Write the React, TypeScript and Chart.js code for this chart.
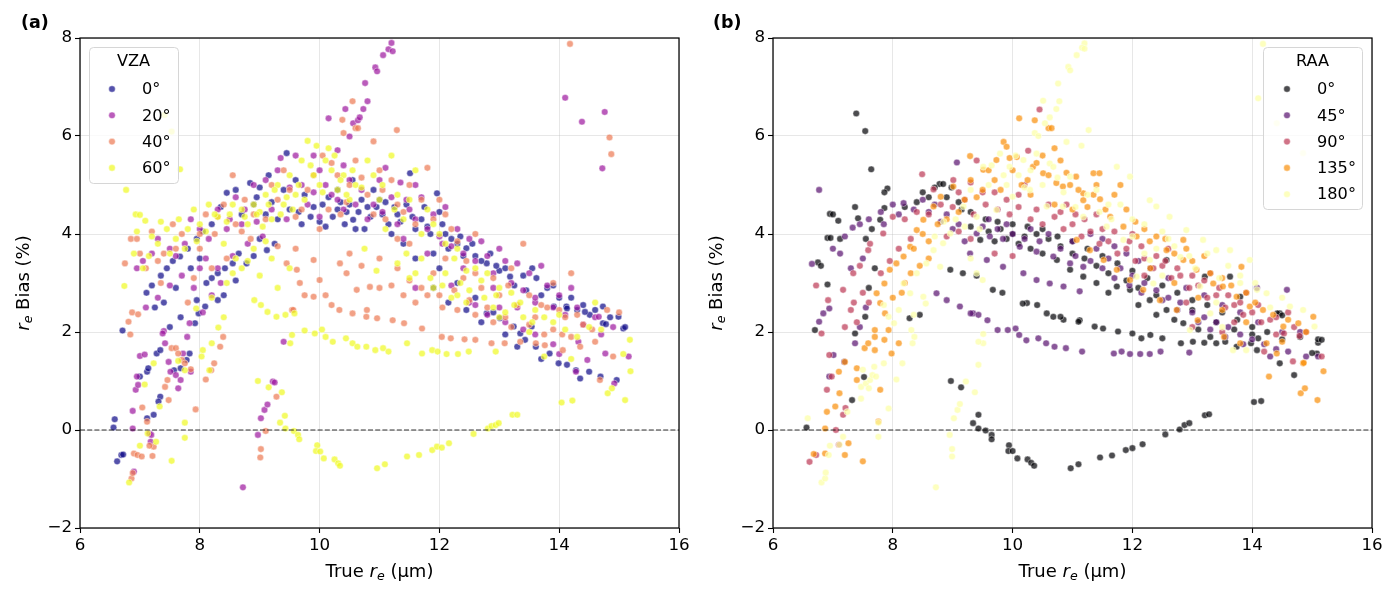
import { useEffect, useRef } from "react";
import { Chart, registerables } from "chart.js";

Chart.register(...registerables);

const FONT = '"DejaVu Sans", sans-serif';

const xTicks = [6, 8, 10, 12, 14, 16];
const yTicks = [-2, 0, 2, 4, 6, 8];

const vzaLabels = ["0°", "20°", "40°", "60°"];
const vzaColors = ["13,8,135", "156,23,158", "237,121,83", "240,249,33"];
const raaLabels = ["0°", "45°", "90°", "135°", "180°"];
const raaColors = ["0,0,4", "87,16,110", "188,55,84", "249,142,9", "252,255,164"];

// (a) points grouped by VZA: [true re, bias %]
const vza0 = [
  [6.56, 0.05], [6.58, 0.22], [6.62, -0.64], [6.69, -0.51], [6.72, -0.5], [6.71, 2.03], [7.0, 1.09], [7.12, 1.19],
  [7.14, 1.26], [7.12, 0.24], [7.23, 0.31], [7.28, 1.56], [7.34, 1.63], [7.34, 0.68], [7.31, 0.58], [7.5, 2.1],
  [7.57, 1.22], [7.68, 1.26], [7.68, 2.3], [7.78, 1.43], [7.83, 1.56], [7.92, 2.18], [7.98, 2.38], [8.09, 2.52],
  [7.11, 2.8], [7.2, 2.95], [7.35, 3.15], [7.45, 3.3], [7.55, 3.45], [7.67, 3.54], [7.8, 3.7], [7.95, 3.9],
  [8.05, 4.05], [8.2, 4.2], [8.11, 3.0], [8.2, 3.1], [8.3, 3.2], [8.42, 3.3], [8.55, 3.4], [8.78, 3.4],
  [8.9, 3.55], [9.12, 3.67], [9.25, 3.8], [8.65, 3.6], [9.0, 3.9], [8.45, 4.84], [8.6, 4.9], [8.84, 5.04],
  [9.0, 4.95], [9.2, 4.65], [9.45, 5.65], [9.6, 5.1], [9.75, 4.8], [9.9, 4.55], [10.05, 4.6], [10.22, 4.35],
  [10.3, 4.5], [10.42, 4.2], [10.56, 4.29], [10.65, 4.45], [10.75, 4.1], [10.85, 4.35], [10.95, 4.55], [11.05, 4.4],
  [11.15, 4.2], [10.9, 4.9], [11.1, 4.65], [11.3, 4.4], [11.51, 5.24], [11.7, 4.3], [11.96, 4.83], [12.05, 4.2],
  [11.85, 4.0], [12.2, 3.9], [12.3, 3.8], [12.45, 3.71], [12.6, 3.55], [12.79, 3.4], [13.0, 3.25], [13.18, 3.13],
  [13.4, 3.15], [13.62, 3.1], [13.8, 2.9], [14.0, 2.7], [14.12, 2.52], [14.3, 2.45], [14.51, 2.35], [14.73, 2.18],
  [15.07, 2.07], [15.1, 2.1], [11.6, 3.5], [12.0, 3.3], [12.3, 3.0], [12.6, 2.7], [12.9, 2.4], [12.79, 2.38],
  [13.01, 2.28], [13.24, 2.11], [13.54, 2.11], [13.35, 1.97], [13.43, 1.84], [13.61, 1.7], [13.84, 1.56], [13.99, 1.36],
  [14.13, 1.33], [14.28, 1.22], [14.5, 1.19], [14.69, 1.09], [14.96, 1.02], [13.91, 2.52], [14.13, 2.48], [14.43, 2.41],
  [14.73, 2.52], [14.99, 2.31], [14.78, 2.16], [9.3, 4.3], [9.5, 4.5], [9.7, 4.2], [10.0, 4.25], [10.15, 4.75],
  [10.5, 4.6], [10.7, 4.7], [11.2, 4.0], [11.4, 3.8], [11.6, 4.1], [11.9, 3.6], [8.7, 4.4], [8.9, 4.6], [9.1, 4.4],
  [9.85, 4.35], [10.1, 4.15], [10.35, 4.65], [10.45, 4.45], [10.6, 4.1], [10.8, 4.55], [11.0, 4.7], [11.25, 4.55],
  [11.35, 4.25], [11.45, 4.6], [11.55, 4.35], [11.75, 4.55], [11.8, 4.15], [12.0, 4.45], [12.1, 4.0], [12.15, 3.7],
  [12.35, 3.95], [12.4, 3.55], [12.55, 3.8], [12.7, 3.45], [12.85, 3.6], [12.95, 3.35], [13.1, 3.3], [13.25, 2.95],
  [13.45, 2.85], [13.55, 3.3], [13.7, 2.75], [13.9, 2.95], [14.2, 2.7], [14.4, 2.55], [14.6, 2.45], [14.85, 2.3],
  [10.3, 4.9], [10.55, 5.1], [9.65, 4.45], [9.4, 4.9], [9.15, 5.2], [8.95, 4.75], [8.35, 4.55], [8.0, 3.5],
  [7.85, 3.3], [7.6, 2.9], [7.4, 2.6], [7.25, 2.5], [8.4, 2.75], [8.6, 3.05], [8.3, 2.65], [7.95, 2.65],
  [11.9, 2.9], [12.15, 2.6], [12.45, 2.45], [12.7, 2.2], [13.1, 1.95], [13.3, 1.7], [13.7, 1.45], [14.35, 1.05],
];
const vza20 = [
  [10.15, 6.36], [10.3, 5.71], [10.43, 6.55], [10.5, 5.99], [10.56, 6.26], [10.64, 6.32], [10.67, 6.38], [10.73, 6.55],
  [10.8, 6.71], [10.76, 7.08], [10.93, 7.4], [10.96, 7.32], [11.06, 7.65], [11.15, 7.77], [11.2, 7.9], [11.22, 7.73],
  [14.1, 6.78], [14.38, 6.29], [14.76, 6.49], [14.72, 5.34], [6.9, -0.85], [6.88, 0.03], [6.88, 0.39], [6.93, 0.82],
  [6.97, 0.92], [6.95, 1.09], [7.0, 1.51], [7.08, 1.54], [7.16, -0.07], [7.19, -0.1], [7.18, -0.24], [7.4, 2.02],
  [7.38, 1.97], [7.42, 1.77], [7.48, 1.39], [7.51, 1.19], [7.6, 1.12], [7.64, 0.85], [7.68, 1.02], [7.72, 1.56],
  [7.79, 1.9], [7.85, 1.19], [7.83, 2.18], [8.72, -1.17], [8.97, -0.1], [9.02, 0.24], [9.08, 0.41], [9.13, 0.52],
  [9.22, 0.99], [9.25, 0.97], [9.4, 1.8], [6.95, 3.3], [7.05, 3.45], [7.2, 3.6], [7.3, 3.9], [7.5, 3.7],
  [7.6, 3.55], [7.75, 3.8], [7.85, 4.3], [8.0, 4.1], [8.0, 3.3], [8.1, 3.5], [8.2, 2.75], [8.35, 3.0],
  [8.3, 4.5], [8.5, 4.3], [8.6, 4.75], [8.75, 4.5], [8.9, 5.0], [9.1, 5.1], [9.3, 5.3], [9.35, 5.55],
  [9.6, 5.6], [9.7, 5.0], [9.9, 4.85], [10.1, 5.0], [10.3, 4.7], [10.5, 5.1], [10.7, 4.9], [10.9, 4.6],
  [11.0, 5.1], [11.2, 4.75], [11.35, 5.05], [11.5, 4.5], [11.7, 4.75], [11.9, 4.4], [12.1, 4.55], [12.05, 3.8],
  [12.3, 4.1], [12.5, 3.9], [12.7, 3.85], [12.8, 3.55], [13.0, 3.7], [13.1, 3.45], [13.3, 3.4], [13.5, 3.2],
  [13.7, 3.35], [13.8, 2.95], [14.0, 2.75], [14.2, 2.9], [14.3, 2.5], [14.6, 2.3], [14.9, 2.1], [15.16, 1.5],
  [14.92, 0.95], [14.77, 1.56], [14.28, 1.19], [14.47, 1.43], [14.66, 2.31], [14.32, 1.8], [13.6, 2.6], [13.3, 2.5],
  [12.9, 2.9], [12.4, 3.3], [11.8, 3.6], [11.4, 3.9], [12.5, 2.6], [12.8, 2.35], [13.1, 2.2], [13.6, 1.95], [14.0, 1.55],
  [8.15, 3.9], [8.45, 4.1], [8.7, 4.2], [8.95, 4.25], [9.2, 4.5], [9.45, 4.3], [9.5, 4.95], [9.8, 4.6],
  [10.0, 4.35], [10.2, 4.8], [10.4, 4.5], [10.6, 4.6], [10.8, 4.3], [11.05, 4.45], [11.3, 4.2], [11.45, 4.7],
  [11.6, 4.3], [11.8, 4.1], [12.0, 3.95], [12.2, 3.75], [12.4, 3.6], [12.6, 3.45], [12.9, 3.2], [13.2, 3.0],
  [13.4, 2.85], [13.6, 2.7], [13.9, 2.5], [14.1, 2.35], [14.4, 2.15], [14.7, 1.95], [7.1, 2.5], [7.3, 2.7],
  [7.5, 2.95], [7.7, 3.15], [7.9, 2.9], [8.05, 2.4], [8.3, 3.3], [8.55, 3.55], [8.8, 3.8], [9.05, 3.95],
  [12.2, 2.95], [12.6, 2.55], [13.0, 2.5], [13.4, 2.05], [13.9, 1.75], [11.6, 2.9], [10.4, 5.4], [10.0, 5.3],
  [9.9, 5.6], [11.1, 5.35], [11.6, 5.0],
];
const vza40 = [
  [6.86, -0.99], [6.88, -0.88], [6.9, -0.48], [6.96, -0.51], [7.03, -0.54], [7.04, 0.46], [7.12, 0.17], [7.21, -0.53],
  [7.23, -0.34], [7.16, -0.32], [6.81, 2.21], [6.84, 1.95], [6.87, 2.4], [6.97, 2.36], [7.42, 0.88], [7.46, 1.02],
  [7.48, 0.61], [7.53, 1.67], [7.6, 1.67], [7.64, 1.56], [7.7, 1.43], [7.75, 1.36], [7.85, 1.24], [7.93, 0.42],
  [8.1, 1.03], [8.19, 1.22], [8.24, 1.36], [8.34, 1.7], [8.39, 1.9], [9.02, -0.39], [9.01, -0.56], [9.1, -0.02],
  [9.28, 0.68], [9.54, 2.45], [6.75, 3.4], [6.85, 3.9], [6.95, 3.9], [7.1, 3.3], [7.2, 4.05], [7.35, 3.0],
  [7.4, 3.6], [7.55, 4.2], [7.7, 4.0], [7.8, 2.6], [7.9, 3.1], [8.0, 3.7], [8.1, 4.4], [8.25, 4.0],
  [8.4, 4.6], [8.55, 5.2], [8.6, 4.2], [8.75, 4.7], [8.9, 4.4], [9.45, 3.4], [9.62, 3.27], [9.9, 3.47],
  [10.0, 3.06], [10.34, 3.4], [10.45, 3.2], [10.62, 2.86], [10.79, 2.45], [10.84, 2.92], [9.56, 2.45], [9.9, 2.72],
  [9.67, 3.0], [9.75, 2.75], [10.1, 2.75], [10.2, 2.55], [11.0, 2.9], [10.33, 2.45], [10.55, 2.38], [10.78, 2.31],
  [10.96, 2.28], [11.22, 2.24], [11.41, 2.18], [11.71, 2.07], [12.04, 1.9], [12.19, 1.87], [12.42, 1.85], [12.6, 1.84],
  [12.87, 1.77], [13.09, 1.77], [13.35, 1.8], [13.61, 1.77], [13.76, 1.73], [14.06, 1.63], [14.68, 1.02], [9.1, 4.3],
  [9.3, 4.7], [9.5, 4.9], [9.7, 4.5], [9.9, 5.2], [10.0, 4.1], [10.2, 5.45], [10.35, 4.4], [10.5, 5.0],
  [10.6, 5.5], [10.8, 4.8], [11.0, 5.3], [11.1, 4.3], [11.3, 4.6], [11.29, 6.12], [10.9, 5.89], [10.55, 6.71],
  [10.38, 6.33], [10.6, 6.16], [10.64, 6.16], [10.4, 6.06], [11.5, 5.0], [11.6, 4.2], [11.8, 5.35], [12.0, 4.7],
  [12.2, 4.1], [11.5, 3.8], [11.3, 3.3], [11.5, 3.05], [11.7, 2.9], [11.9, 3.2], [12.0, 2.75], [12.1, 3.5],
  [12.25, 2.85], [12.4, 3.1], [12.5, 2.65], [12.7, 2.9], [12.8, 2.5], [13.0, 2.75], [13.1, 2.3], [13.3, 2.55],
  [13.4, 3.8], [13.6, 2.3], [13.8, 2.5], [13.9, 2.05], [14.1, 2.3], [14.2, 1.9], [14.4, 2.15], [14.6, 1.8],
  [14.8, 2.45], [14.9, 1.5], [14.2, 3.2], [13.9, 3.0], [14.84, 5.97], [14.87, 5.63], [14.18, 7.88], [15.0, 2.4],
  [12.6, 4.0], [13.2, 3.3], [9.2, 5.0], [9.4, 5.3], [9.6, 4.35], [9.8, 4.9], [10.05, 5.6], [10.15, 4.5],
  [10.3, 5.2], [10.45, 4.65], [10.7, 5.15], [10.9, 4.4], [11.05, 4.9], [11.2, 5.1], [11.4, 4.45], [11.7, 4.7],
  [11.9, 4.3], [12.1, 4.4], [12.3, 3.85], [12.45, 3.45], [12.6, 3.2], [12.9, 3.1], [13.15, 2.95], [13.5, 2.75],
  [13.7, 2.55], [14.0, 2.45], [14.3, 2.35], [14.55, 2.05], [11.2, 2.95], [11.4, 2.75], [11.6, 2.6], [11.8, 2.75],
  [12.05, 2.5], [12.3, 2.45], [12.6, 2.35], [12.9, 2.2], [13.2, 2.1], [13.5, 2.15], [13.75, 1.95], [14.05, 1.95],
  [14.35, 1.7], [8.7, 4.05], [8.3, 4.35], [8.0, 4.0], [7.6, 3.7], [7.3, 3.45], [7.0, 3.6], [8.45, 3.5],
  [8.2, 3.3], [8.85, 3.9], [9.6, 3.7], [9.3, 3.75], [10.5, 3.6], [10.7, 3.35], [11.0, 3.5], [11.3, 3.9],
];
const vza60 = [
  [6.77, 4.9], [6.93, 4.4], [7.0, 4.39], [7.09, 4.27], [6.74, 2.94], [7.41, 6.43], [7.53, 6.09], [7.67, 5.32],
  [6.82, -1.07], [7.0, -0.32], [7.27, -0.24], [7.13, -0.07], [7.53, -0.63], [7.75, -0.16], [7.75, 0.15], [7.33, 0.48],
  [7.23, 1.36], [7.08, 0.93], [7.64, 1.41], [7.75, 1.22], [8.05, 1.63], [8.03, 1.5], [8.16, 1.22], [8.2, 1.77],
  [8.31, 2.09], [7.94, 2.48], [8.4, 2.3], [6.9, 3.6], [7.05, 3.3], [7.2, 3.95], [7.3, 3.8], [7.45, 4.1],
  [7.6, 3.9], [7.65, 4.3], [7.8, 4.1], [7.9, 4.5], [8.0, 4.2], [8.15, 4.6], [8.3, 4.35], [8.4, 3.8],
  [8.5, 4.4], [8.6, 3.5], [8.7, 4.5], [8.8, 4.2], [8.9, 4.6], [9.0, 4.45], [9.1, 4.8], [9.2, 4.3],
  [9.3, 5.0], [9.4, 4.6], [9.5, 5.2], [9.6, 4.8], [9.7, 5.5], [9.8, 5.9], [9.85, 5.4], [9.95, 5.8],
  [10.0, 5.0], [10.1, 5.5], [10.2, 5.3], [10.3, 4.9], [10.4, 5.2], [10.5, 4.7], [10.6, 5.0], [10.8, 5.5],
  [11.0, 4.7], [11.1, 4.1], [11.2, 5.6], [11.4, 4.3], [11.6, 5.3], [11.8, 4.5], [12.0, 4.0], [8.2, 2.7],
  [8.45, 3.0], [8.7, 3.3], [8.9, 3.7], [9.0, 3.15], [9.2, 3.5], [9.3, 2.9], [9.5, 3.3], [8.91, 2.65],
  [9.02, 2.55], [9.13, 2.41], [9.28, 2.31], [9.43, 2.35], [9.58, 2.38], [9.54, 1.94], [9.51, 1.77], [9.75, 2.03],
  [9.92, 1.97], [10.04, 2.05], [10.1, 1.9], [10.22, 1.8], [10.44, 1.87], [10.55, 1.77], [10.63, 1.7], [10.78, 1.7],
  [10.93, 1.63], [11.06, 1.67], [11.15, 1.6], [11.46, 1.77], [11.71, 1.56], [11.88, 1.63], [11.97, 1.6], [12.12, 1.55],
  [12.31, 1.55], [12.49, 1.6], [12.94, 1.6], [8.97, 1.0], [9.15, 0.87], [9.37, 0.77], [9.42, 0.29], [9.34, 0.15],
  [9.43, 0.03], [9.57, -0.02], [9.64, -0.1], [9.66, -0.19], [9.96, -0.31], [9.94, -0.43], [10.01, -0.44], [10.07, -0.58],
  [10.25, -0.6], [10.31, -0.68], [10.34, -0.73], [10.96, -0.78], [11.09, -0.7], [11.46, -0.54], [11.66, -0.51], [11.88, -0.41],
  [11.96, -0.34], [12.04, -0.36], [12.16, -0.27], [12.57, -0.08], [12.81, 0.03], [12.87, 0.08], [12.94, 0.1], [12.99, 0.14],
  [13.22, 0.31], [13.3, 0.31], [14.04, 0.56], [14.22, 0.6], [15.1, 0.61], [15.19, 1.2], [14.81, 0.75], [14.88, 0.85],
  [15.07, 1.55], [15.18, 1.84], [11.5, 3.1], [11.7, 3.5], [11.9, 2.9], [12.1, 3.2], [12.2, 2.7], [12.35, 3.0],
  [12.5, 2.85], [12.6, 3.3], [12.75, 2.7], [12.9, 2.5], [13.0, 2.9], [13.1, 2.4], [13.25, 2.55], [13.4, 2.3],
  [13.5, 2.0], [13.6, 2.45], [13.75, 1.5], [13.9, 2.2], [14.0, 2.35], [14.2, 1.45], [14.5, 2.1], [14.6, 2.6],
  [12.3, 3.7], [11.3, 4.8], [12.8, 3.2], [8.1, 4.05], [8.25, 4.4], [8.45, 4.25], [8.55, 4.6], [8.75, 4.35],
  [8.95, 4.4], [9.05, 4.15], [9.15, 4.6], [9.25, 4.9], [9.35, 4.4], [9.45, 4.75], [9.55, 4.5], [9.65, 5.0],
  [9.75, 4.7], [9.9, 5.2], [10.05, 4.85], [10.15, 5.75], [10.25, 5.6], [10.35, 5.1], [10.45, 4.8], [10.55, 5.3],
  [10.7, 4.95], [10.9, 5.2], [11.05, 5.0], [11.25, 4.5], [11.5, 4.7], [11.7, 4.0], [11.9, 4.2], [12.1, 3.8],
  [12.25, 3.5], [12.45, 3.25], [12.7, 3.05], [12.95, 2.75], [13.2, 2.8], [13.35, 2.6], [13.55, 2.2], [13.75, 2.3],
  [14.1, 2.05], [14.3, 1.9], [14.7, 2.05], [11.3, 3.4], [11.6, 3.2], [11.85, 3.1], [12.05, 2.95], [12.45, 2.6],
  [7.35, 4.25], [7.5, 3.6], [7.75, 3.7], [7.95, 3.85], [8.55, 3.2], [8.8, 3.45], [9.1, 3.85], [7.15, 3.55],
  [6.95, 4.05], [12.3, 2.75], [11.45, 3.6], [13.0, 2.3], [10.75, 3.7], [10.95, 3.25],
];

// (b) points grouped by RAA
const raa0 = [
  [8.97, 1.0], [9.14, 0.87], [9.43, 0.31], [9.34, 0.14], [9.43, 0.03], [9.55, -0.01], [9.65, -0.1], [9.65, -0.19],
  [9.94, -0.31], [9.93, -0.43], [10.0, -0.43], [10.08, -0.58], [10.25, -0.6], [10.31, -0.67], [10.36, -0.73], [10.97, -0.78],
  [11.1, -0.7], [11.46, -0.56], [11.66, -0.52], [11.89, -0.41], [12.0, -0.37], [12.17, -0.29], [12.55, -0.09], [12.79, 0.01],
  [12.87, 0.1], [12.95, 0.14], [13.21, 0.3], [13.28, 0.32], [14.03, 0.57], [14.15, 0.59], [6.56, 0.05], [7.39, 6.46],
  [7.54, 6.1], [7.64, 5.32], [7.91, 4.93], [7.86, 4.85], [7.37, 4.55], [6.95, 4.41], [7.0, 4.4], [7.09, 4.27],
  [6.91, 3.92], [6.96, 3.92], [7.12, 3.9], [6.75, 3.42], [6.8, 3.35], [6.91, 2.97], [6.7, 2.04], [7.42, 4.32],
  [7.79, 4.29], [7.86, 4.53], [8.78, 5.02], [8.84, 5.02], [8.98, 4.95], [7.37, 1.97], [7.54, 2.31], [7.52, 1.08],
  [7.32, 0.61], [8.28, 2.28], [8.45, 2.35], [7.6, 2.9], [7.7, 3.3], [7.55, 3.9], [7.65, 4.1], [9.46, 3.88],
  [9.7, 3.85], [9.9, 3.9], [10.1, 3.8], [10.3, 3.7], [10.5, 3.6], [10.74, 3.47], [10.96, 3.27], [11.18, 3.13],
  [11.4, 3.0], [11.74, 2.93], [11.96, 2.86], [12.29, 2.65], [12.57, 2.45], [12.85, 2.18], [13.3, 1.9], [13.74, 1.7],
  [14.08, 1.63], [14.46, 1.36], [15.08, 1.56], [15.1, 1.78], [9.3, 4.15], [9.6, 4.05], [9.8, 4.1], [10.0, 4.0],
  [10.2, 3.95], [10.4, 4.0], [10.6, 3.9], [10.8, 3.75], [11.0, 3.6], [11.2, 3.5], [11.4, 3.35], [11.6, 3.2],
  [11.9, 3.05], [12.1, 2.9], [12.4, 2.75], [12.57, 3.47], [13.21, 3.13], [13.63, 3.13], [13.8, 2.72], [14.46, 2.38],
  [13.0, 2.45], [13.4, 2.2], [13.7, 2.05], [14.0, 1.95], [14.5, 1.85], [14.8, 1.9], [15.1, 1.85], [8.96, 3.27],
  [9.17, 3.2], [9.4, 3.15], [9.67, 2.86], [9.83, 2.8], [10.24, 2.59], [10.41, 2.55], [10.68, 2.31], [10.85, 2.25],
  [11.12, 2.24], [10.17, 2.58], [10.57, 2.38], [10.8, 2.31], [11.1, 2.21], [11.37, 2.11], [11.51, 2.07], [11.76, 2.01],
  [12.0, 1.97], [12.15, 1.87], [12.3, 1.94], [12.5, 1.87], [12.81, 1.77], [13.01, 1.8], [13.2, 1.78], [13.4, 1.77],
  [13.55, 1.8], [13.98, 1.77], [14.1, 1.87], [14.42, 2.38], [14.5, 2.34], [15.0, 1.57], [15.16, 1.84], [14.7, 1.12],
  [8.4, 4.65], [8.6, 4.75], [9.15, 4.5], [8.2, 4.55], [8.5, 4.85], [8.7, 4.95], [8.9, 4.75], [9.1, 4.65],
  [9.3, 4.45], [9.55, 4.3], [9.75, 4.25], [10.0, 4.2], [10.25, 4.15], [10.5, 4.1], [10.75, 3.95], [11.0, 3.85],
  [11.25, 3.7], [11.5, 3.55], [11.75, 3.4], [12.0, 3.25], [12.25, 3.1], [12.5, 2.95], [12.75, 2.8], [13.0, 2.65],
  [13.25, 2.55], [13.5, 2.4], [13.75, 2.25], [14.0, 2.1], [14.25, 2.0], [11.6, 2.8], [12.1, 2.55], [12.4, 2.35],
  [12.7, 2.25], [13.1, 2.05],
];
const raa45 = [
  [6.77, 4.9], [6.65, 3.39], [7.12, 3.6], [7.33, 4.13], [7.0, 3.7], [7.2, 3.95], [7.45, 4.2], [7.6, 4.3],
  [7.8, 4.45], [8.0, 4.6], [8.18, 4.63], [8.35, 4.5], [8.5, 4.7], [8.7, 4.6], [9.07, 5.46], [8.9, 4.4],
  [9.1, 4.2], [9.4, 4.01], [9.62, 3.95], [9.84, 3.9], [10.12, 3.74], [10.4, 3.64], [10.68, 3.54], [10.96, 3.4],
  [11.18, 3.33], [9.29, 3.6], [9.57, 3.47], [9.84, 3.33], [10.18, 3.2], [10.4, 3.06], [10.62, 2.99], [10.85, 2.93],
  [11.12, 2.83], [8.73, 2.79], [8.9, 2.65], [9.12, 2.52], [9.34, 2.38], [9.3, 2.38], [9.43, 2.35], [9.58, 2.24],
  [9.75, 2.04], [9.92, 2.04], [10.05, 2.07], [10.11, 1.94], [10.23, 1.83], [10.43, 1.87], [10.56, 1.77], [10.7, 1.7],
  [10.89, 1.67], [11.16, 1.6], [11.69, 1.56], [11.82, 1.6], [11.96, 1.55], [12.13, 1.55], [12.29, 1.55], [12.47, 1.6],
  [12.95, 1.58], [6.84, 2.38], [6.77, 2.21], [6.94, 2.48], [7.01, 1.53], [6.94, 1.09], [7.37, 1.77], [7.19, 1.39],
  [7.45, 2.1], [7.55, 2.5], [11.4, 3.7], [11.6, 3.5], [11.8, 3.3], [12.0, 3.15], [12.2, 3.0], [12.4, 2.85],
  [12.6, 2.7], [12.8, 2.6], [13.0, 2.4], [13.2, 2.3], [13.4, 2.2], [13.6, 2.1], [13.8, 1.95], [14.0, 1.85],
  [14.2, 1.75], [14.4, 1.65], [14.6, 1.6], [14.9, 1.5], [15.1, 1.5], [11.3, 4.0], [11.5, 3.9], [11.7, 3.75],
  [11.9, 3.6], [12.1, 3.45], [12.3, 3.3], [12.6, 3.1], [12.9, 2.9], [13.2, 2.75], [13.5, 2.55], [13.8, 2.4],
  [14.1, 2.2], [14.58, 2.86], [14.08, 2.9], [14.5, 2.0], [14.8, 2.0], [9.6, 4.3], [9.9, 4.2], [10.3, 4.1],
  [10.6, 4.0], [11.0, 3.85], [9.5, 4.15], [9.75, 4.1], [10.0, 4.0], [10.2, 3.9], [10.45, 3.85], [10.8, 3.7],
  [11.05, 3.55], [11.3, 3.45], [11.5, 3.3], [11.7, 3.1], [11.95, 2.95], [12.15, 2.8], [12.5, 2.65], [12.75, 2.45],
  [13.1, 2.2], [13.3, 2.05], [13.55, 1.9], [13.85, 1.75], [14.3, 1.5], [8.6, 4.45], [8.8, 4.25], [9.0, 4.1],
  [9.2, 3.85], [8.1, 4.4], [7.85, 4.2], [7.5, 3.5], [7.3, 3.3],
];
const raa90 = [
  [6.61, -0.65], [6.72, -0.51], [6.81, 1.97], [6.94, 1.53], [6.98, 1.09], [6.9, 0.82], [7.17, 0.31], [7.21, 0.45],
  [7.05, 0.0], [7.1, -0.3], [6.72, 2.95], [6.92, 2.65], [7.17, 2.86], [7.34, 3.2], [7.45, 3.35], [7.59, 3.67],
  [7.62, 3.8], [7.84, 4.01], [8.0, 4.35], [7.3, 2.45], [7.2, 2.1], [7.4, 2.2], [8.49, 5.22], [8.68, 4.91],
  [9.01, 5.1], [9.4, 5.5], [10.26, 5.7], [10.45, 6.54], [8.2, 4.3], [8.4, 4.45], [8.6, 4.4], [8.8, 4.6],
  [9.0, 4.55], [9.2, 4.7], [9.35, 4.4], [9.55, 4.6], [9.75, 4.5], [9.95, 4.4], [10.1, 4.55], [10.3, 4.3],
  [10.5, 4.2], [10.7, 4.35], [10.85, 4.1], [11.0, 4.2], [11.15, 3.95], [11.3, 4.05], [11.45, 3.8], [11.6, 3.85],
  [11.75, 3.6], [11.9, 3.7], [12.05, 3.45], [12.2, 3.5], [12.35, 3.3], [12.5, 3.35], [12.65, 3.1], [12.8, 3.15],
  [12.95, 2.9], [13.1, 2.95], [13.25, 2.7], [13.4, 2.75], [13.55, 2.5], [13.7, 2.55], [13.85, 2.35], [14.0, 2.4],
  [14.15, 2.2], [14.3, 2.25], [14.53, 1.97], [14.79, 1.92], [14.68, 1.4], [15.16, 1.5], [14.9, 2.0], [14.6, 2.4],
  [13.9, 2.8], [13.3, 3.2], [12.6, 3.7], [12.0, 4.0], [11.4, 4.4], [10.9, 4.6], [10.2, 5.0], [9.7, 3.6],
  [9.3, 3.9], [10.0, 3.55], [13.0, 2.1], [13.5, 2.0], [14.2, 1.6], [9.1, 4.05], [8.9, 3.95], [9.1, 4.85],
  [9.3, 5.05], [9.5, 4.85], [9.7, 4.85], [9.9, 4.7], [10.1, 4.8], [10.4, 4.5], [10.6, 4.6], [10.8, 4.45],
  [11.05, 4.4], [11.2, 4.3], [11.5, 4.1], [11.7, 4.05], [11.95, 3.85], [12.15, 3.75], [12.4, 3.55], [12.55, 3.45],
  [12.75, 3.3], [13.0, 3.15], [13.2, 3.05], [13.45, 2.9], [13.6, 2.75], [13.8, 2.6], [14.1, 2.55], [14.4, 2.3],
  [14.7, 2.1], [12.2, 3.15], [12.9, 2.6], [13.7, 2.2], [14.4, 1.95], [8.3, 3.9], [8.1, 3.7], [7.95, 3.45],
  [7.8, 3.2], [7.5, 2.8], [7.35, 2.6], [7.6, 2.6],
];
const raa135 = [
  [6.68, -0.49], [6.87, -0.48], [7.2, -0.51], [7.5, -0.64], [7.26, -0.27], [6.87, 0.03], [6.9, 0.37], [7.04, 0.48],
  [7.11, 0.75], [7.1, 1.19], [7.2, 1.39], [7.4, 1.02], [7.4, 1.26], [7.53, 1.67], [7.59, 1.77], [7.7, 1.9],
  [7.76, 0.17], [7.79, 0.82], [7.93, 2.04], [7.98, 1.56], [8.1, 1.77], [7.7, 1.63], [7.86, 1.84], [7.73, 2.79],
  [7.86, 2.99], [7.95, 3.27], [8.06, 3.4], [8.18, 3.54], [8.29, 3.74], [8.4, 4.08], [8.51, 4.29], [8.68, 4.56],
  [8.8, 4.76], [9.01, 4.97], [9.29, 5.59], [9.51, 5.31], [9.73, 5.51], [9.85, 5.88], [9.9, 5.78], [10.07, 5.57],
  [10.34, 5.37], [10.51, 5.24], [10.73, 5.04], [10.84, 4.97], [11.06, 5.17], [11.18, 4.69], [10.11, 6.36], [10.37, 6.32],
  [10.6, 6.16], [10.65, 6.16], [7.79, 2.59], [7.87, 2.38], [7.7, 2.04], [11.35, 5.24], [11.45, 5.24], [11.8, 5.0],
  [10.96, 5.0], [11.18, 4.83], [11.35, 4.8], [11.46, 4.71], [11.63, 4.35], [11.85, 4.15], [12.07, 3.95], [12.29, 3.85],
  [12.57, 3.67], [12.85, 3.47], [13.07, 3.27], [13.35, 2.99], [13.51, 2.93], [13.74, 2.72], [13.96, 2.52], [14.18, 2.45],
  [14.52, 2.11], [14.77, 2.18], [15.02, 2.31], [14.85, 1.36], [14.41, 1.56], [13.8, 1.77], [13.53, 1.9], [13.09, 2.24],
  [12.74, 2.45], [12.46, 2.65], [12.18, 2.86], [11.96, 3.06], [11.74, 3.27], [11.52, 3.47], [11.29, 3.67], [11.07, 3.88],
  [12.85, 3.88], [13.82, 3.33], [14.24, 1.77], [14.81, 0.75], [14.88, 0.85], [15.09, 0.61], [15.19, 1.2], [14.86, 1.37],
  [14.28, 1.09], [9.2, 4.7], [9.5, 4.9], [9.7, 5.1], [10.0, 5.3], [10.25, 5.1], [10.5, 5.6], [10.8, 5.5],
  [11.0, 4.5], [10.7, 4.6], [10.3, 4.8], [8.9, 4.3], [9.1, 4.45], [8.6, 3.85], [8.2, 3.0], [8.0, 2.7],
  [9.3, 5.1], [9.4, 4.75], [9.6, 5.3], [9.8, 4.9], [9.95, 5.55], [10.15, 5.0], [10.4, 5.45], [10.6, 5.2],
  [10.7, 5.75], [10.9, 5.25], [11.1, 4.9], [11.25, 4.55], [11.4, 5.0], [11.55, 4.5], [11.7, 4.8], [11.9, 4.5],
  [12.05, 4.25], [12.2, 4.1], [12.4, 3.95], [12.55, 3.9], [12.7, 3.6], [12.9, 3.7], [13.0, 3.45], [13.2, 3.55],
  [13.3, 3.2], [13.5, 3.1], [13.65, 2.95], [13.9, 2.8], [14.05, 2.6], [14.35, 2.35], [14.6, 2.25], [14.9, 2.0],
  [8.35, 3.7], [8.5, 4.0], [8.75, 4.2], [8.3, 3.2], [8.45, 3.35], [8.6, 3.5], [8.15, 2.8], [12.3, 3.3],
  [12.7, 3.0], [13.1, 2.7], [13.5, 2.45], [13.9, 2.2], [14.5, 1.8],
];
const raa180 = [
  [11.2, 7.89], [11.16, 7.8], [11.2, 7.78], [11.07, 7.65], [10.93, 7.41], [10.96, 7.34], [10.76, 7.07], [10.78, 6.71],
  [10.73, 6.55], [10.51, 6.72], [10.54, 6.26], [10.62, 6.38], [10.37, 6.06], [10.43, 6.0], [11.27, 6.12], [10.9, 5.88],
  [11.15, 5.8], [14.1, 6.77], [14.41, 6.26], [14.18, 7.88], [14.85, 5.65], [6.81, -1.07], [6.87, -0.99], [6.88, -0.87],
  [6.58, 0.24], [6.93, -0.51], [7.11, -0.3], [7.17, -0.14], [6.95, -0.32], [7.24, 0.37], [7.47, 0.64], [7.47, 0.88],
  [7.55, 0.95], [7.62, 1.02], [7.66, 1.12], [7.69, 1.29], [7.76, -0.14], [7.76, 0.15], [7.93, 0.44], [7.85, 1.36],
  [8.06, 1.03], [8.16, 1.36], [8.36, 1.9], [8.33, 1.77], [8.72, -1.17], [8.95, -0.1], [8.99, -0.39], [8.99, -0.54],
  [9.02, 0.24], [9.08, 0.41], [9.12, 0.53], [9.22, 0.99], [9.37, 0.77], [9.43, 1.33], [9.51, 1.77], [9.51, 1.96],
  [9.43, 1.8], [10.62, 5.44], [11.74, 5.37], [11.96, 5.17], [12.29, 4.69], [12.4, 4.56], [12.62, 4.35], [12.9, 4.08],
  [13.18, 3.88], [13.4, 3.67], [13.63, 3.67], [13.96, 3.47], [13.8, 3.0], [14.08, 2.86], [14.24, 2.79], [14.63, 2.52],
  [14.85, 2.45], [15.04, 2.11], [12.96, 2.04], [13.3, 2.38], [12.35, 2.99], [12.07, 3.13], [11.85, 3.88], [11.57, 4.15],
  [11.18, 4.35], [10.84, 4.56], [12.29, 3.47], [12.8, 3.53], [13.13, 2.93], [13.68, 1.63], [13.9, 1.63], [7.85, 2.55],
  [7.93, 2.31], [8.02, 2.18], [8.1, 2.45], [8.35, 2.35], [8.55, 2.58], [8.31, 2.04], [7.5, 1.23], [7.72, 1.09],
  [7.6, 0.85], [8.18, 2.99], [8.29, 2.79], [8.4, 3.2], [8.56, 3.4], [8.68, 3.67], [8.79, 3.33], [8.84, 3.81],
  [8.96, 4.01], [8.51, 2.72], [9.5, 3.06], [9.51, 5.37], [9.79, 5.64], [9.95, 5.37], [10.18, 5.51], [10.4, 5.64],
  [10.68, 5.37], [10.96, 5.17], [9.18, 4.56], [9.4, 4.35], [9.73, 4.49], [10.0, 4.76], [10.29, 4.9], [10.57, 4.56],
  [9.9, 5.0], [10.1, 5.2], [11.4, 4.9], [11.6, 4.6], [12.0, 4.3], [12.6, 3.9], [9.3, 4.9], [9.6, 5.0],
  [9.65, 5.4], [9.85, 5.2], [10.05, 5.6], [10.2, 4.95], [10.3, 5.3], [10.5, 5.0], [10.75, 5.15], [10.85, 4.85],
  [11.05, 4.55], [11.25, 4.8], [11.45, 4.45], [11.65, 4.3], [11.8, 4.6], [12.0, 3.95], [12.2, 4.2], [12.4, 3.7],
  [12.5, 4.05], [12.7, 3.75], [12.95, 3.55], [13.05, 3.3], [13.25, 3.6], [13.45, 3.1], [13.6, 3.35], [13.8, 3.15],
  [14.05, 3.0], [14.3, 2.5], [14.5, 2.7], [9.05, 4.3], [9.2, 4.15], [9.45, 4.1], [8.7, 3.95], [8.85, 4.25],
  [9.3, 3.5], [9.4, 3.2], [12.5, 3.15], [13.4, 2.6], [12.2, 3.6], [13.5, 2.1],
];

const fmtTick = (v: number | string) => {
  const n = Number(v);
  return n < 0 ? "\u2212" + Math.abs(n) : String(n);
};

type Part = { t: string; font: string; dy: number };

// "r_e" label pieces: italic r with an italic subscript e
function reParts(before: string, after: string): Part[] {
  return [
    { t: before, font: `18px ${FONT}`, dy: 0 },
    { t: "r", font: `italic 18px ${FONT}`, dy: 0 },
    { t: "e", font: `italic 12.6px ${FONT}`, dy: 4.5 },
    { t: after, font: `18px ${FONT}`, dy: 0 },
  ];
}

function drawParts(ctx: CanvasRenderingContext2D, parts: Part[], cx: number, cy: number, rotate: boolean) {
  ctx.save();
  ctx.translate(cx, cy);
  if (rotate) ctx.rotate(-Math.PI / 2);
  ctx.textBaseline = "middle";
  ctx.textAlign = "left";
  ctx.fillStyle = "#000";
  let total = 0;
  const widths = parts.map((p) => {
    ctx.font = p.font;
    const w = ctx.measureText(p.t).width;
    total += w;
    return w;
  });
  let x = -total / 2;
  parts.forEach((p, i) => {
    ctx.font = p.font;
    ctx.fillText(p.t, x, p.dy);
    x += widths[i];
  });
  ctx.restore();
}

type PanelCfg = {
  tag: string;
  tagX: number;
  yTitleX: number;
  yWidth: number;
  rightPad: number;
  legendTitle: string;
  labels: string[];
  colors: string[];
  series: number[][][];
  box: { x: number; y: number; w: number; h: number };
  markerX: number;
  labelX: number;
};

function Panel({ cfg }: { cfg: PanelCfg }) {
  const canvasRef = useRef<HTMLCanvasElement>(null);

  useEffect(() => {
    if (!canvasRef.current) return;

    const decor = {
      id: "decor",
      afterDatasetsDraw(chart: Chart) {
        const { ctx, chartArea: a } = chart;
        const y0 = chart.scales.y.getPixelForValue(0);
        ctx.save();
        // dashed zero line
        ctx.strokeStyle = "rgba(0,0,0,0.8)";
        ctx.lineWidth = 1.1;
        ctx.setLineDash([5, 2.2]);
        ctx.beginPath();
        ctx.moveTo(a.left, y0);
        ctx.lineTo(a.right, y0);
        ctx.stroke();
        ctx.setLineDash([]);
        // frame
        ctx.strokeStyle = "#000";
        ctx.lineWidth = 1.25;
        ctx.strokeRect(a.left, a.top, a.right - a.left, a.bottom - a.top);

        // legend
        const b = cfg.box;
        ctx.beginPath();
        ctx.roundRect(b.x + 0.5, b.y + 0.5, b.w, b.h, 4);
        ctx.fillStyle = "rgba(255,255,255,0.8)";
        ctx.fill();
        ctx.strokeStyle = "#d6d6d6";
        ctx.lineWidth = 1;
        ctx.stroke();
        ctx.fillStyle = "#000";
        ctx.font = `16.2px ${FONT}`;
        ctx.textBaseline = "middle";
        ctx.textAlign = "center";
        ctx.fillText(cfg.legendTitle, b.x + b.w / 2, b.y + 15);
        ctx.textAlign = "left";
        cfg.labels.forEach((lab, i) => {
          const ey = b.y + 42 + i * 26.3;
          ctx.beginPath();
          ctx.arc(cfg.markerX, ey, 3.3, 0, Math.PI * 2);
          ctx.fillStyle = `rgba(${cfg.colors[i]},0.7)`;
          ctx.fill();
          ctx.strokeStyle = "rgba(255,255,255,0.7)";
          ctx.lineWidth = 0.6;
          ctx.stroke();
          ctx.fillStyle = "#000";
          ctx.fillText(lab, cfg.labelX, ey + 1);
        });

        // axis titles and panel tag
        drawParts(ctx, reParts("", " Bias (%)"), cfg.yTitleX, (a.top + a.bottom) / 2, true);
        drawParts(ctx, reParts("True ", " (µm)"), (a.left + a.right) / 2, 572, false);
        ctx.fillStyle = "#000";
        ctx.font = `bold 17.5px ${FONT}`;
        ctx.textAlign = "left";
        ctx.textBaseline = "middle";
        ctx.fillText(cfg.tag, cfg.tagX, 23);
        ctx.restore();
      },
    };

    const chart = new Chart(canvasRef.current, {
      type: "scatter",
      data: {
        datasets: cfg.series.map((pts, i) => ({
          label: cfg.labels[i],
          data: pts.map(([x, y]) => ({ x, y })),
          backgroundColor: `rgba(${cfg.colors[i]},0.7)`,
          borderColor: "rgba(255,255,255,0.7)",
          borderWidth: 0.6,
          pointRadius: 3.3,
          order: cfg.series.length - i,
        })),
      },
      options: {
        animation: false,
        responsive: false,
        maintainAspectRatio: false,
        events: [],
        layout: { padding: { top: 38, right: cfg.rightPad, left: 0, bottom: 0 } },
        plugins: { legend: { display: false }, tooltip: { enabled: false } },
        scales: {
          x: {
            type: "linear",
            min: xTicks[0],
            max: xTicks[xTicks.length - 1],
            afterFit: (s: any) => {
              s.height = 69;
            },
            ticks: {
              stepSize: xTicks[1] - xTicks[0],
              color: "#000",
              padding: 3,
              maxRotation: 0,
              font: { family: FONT, size: 16.7 },
              callback: fmtTick,
            },
            grid: {
              color: "rgba(176,176,176,0.3)",
              lineWidth: 1,
              tickColor: "#000",
              tickLength: 5,
              tickWidth: 1.1,
            },
            border: { display: false },
          },
          y: {
            type: "linear",
            min: yTicks[0],
            max: yTicks[yTicks.length - 1],
            afterFit: (s: any) => {
              s.width = cfg.yWidth;
            },
            ticks: {
              stepSize: yTicks[1] - yTicks[0],
              color: "#000",
              padding: 3,
              font: { family: FONT, size: 16.7 },
              callback: fmtTick,
            },
            grid: {
              color: "rgba(176,176,176,0.3)",
              lineWidth: 1,
              tickColor: "#000",
              tickLength: 5,
              tickWidth: 1.1,
            },
            border: { display: false },
          },
        },
      },
      plugins: [decor],
    });

    return () => {
      chart.destroy();
    };
  }, [cfg]);

  return <canvas ref={canvasRef} width={698} height={597} style={{ display: "block" }} />;
}

const panelA: PanelCfg = {
  tag: "(a)",
  tagX: 21,
  yTitleX: 24,
  yWidth: 80,
  rightPad: 19,
  legendTitle: "VZA",
  labels: vzaLabels,
  colors: vzaColors,
  series: [vza0, vza20, vza40, vza60],
  box: { x: 89, y: 47, w: 89, h: 136 },
  markerX: 112,
  labelX: 142,
};

const panelB: PanelCfg = {
  tag: "(b)",
  tagX: 15,
  yTitleX: 19,
  yWidth: 75,
  rightPad: 24,
  legendTitle: "RAA",
  labels: raaLabels,
  colors: raaColors,
  series: [raa0, raa45, raa90, raa135, raa180],
  box: { x: 565, y: 47, w: 99, h: 162 },
  markerX: 589,
  labelX: 619,
};

export default function App() {
  useEffect(() => {
    document.body.style.margin = "0";
  }, []);

  return (
    <div style={{ display: "flex", width: 1396, height: 597, background: "#fff" }}>
      <Panel cfg={panelA} />
      <Panel cfg={panelB} />
    </div>
  );
}
